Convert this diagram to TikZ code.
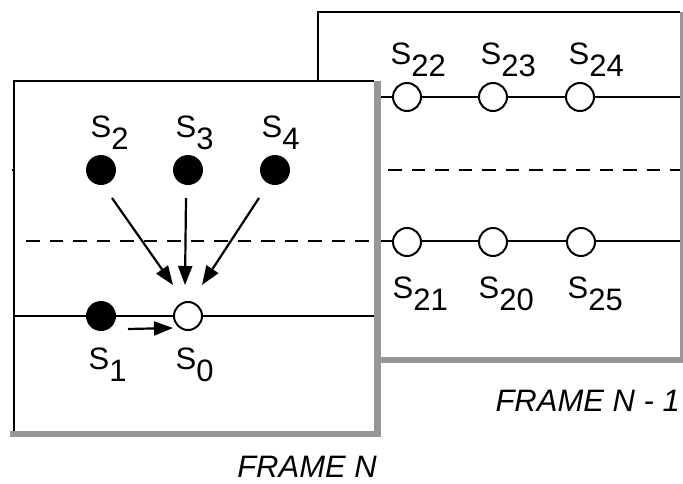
\documentclass[tikz,border=0pt]{standalone}
\usepackage{fontspec}
\setmainfont{Liberation Sans}
\usetikzlibrary{arrows.meta}
\definecolor{shadowgray}{RGB}{150,150,150}
\newcommand\slab[1]{S\lower12pt\hbox{#1}}
\begin{document}
\begin{tikzpicture}[x=1pt,y=-1pt,
  lw/.style={line width=2pt},
  dashline/.style={line width=2pt,dash pattern=on 13.5pt off 10pt},
  shadowline/.style={shadowgray,line width=6.5pt},
  opendot/.style={circle,draw,line width=2pt,fill=white,minimum size=28pt,inner sep=0pt},
  fulldot/.style={circle,fill=black,minimum size=30pt,inner sep=0pt},
  lab/.style={anchor=base west,inner sep=0pt,font=\fontsize{31}{36}\selectfont},
  framelab/.style={anchor=base east,inner sep=0pt,font=\fontsize{31}{36}\selectfont\itshape},
  arr/.style={line width=2.2pt,-{Triangle[length=19pt,width=14pt]}}]
\useasboundingbox (0,0) rectangle (683,483);
\fill[white] (0,0) rectangle (683,483);
% ---------- frame N-1 ----------
\draw[lw] (318,81) -- (318,12) -- (680,12);
\draw[shadowline] (683,12) -- (683,363);
\draw[shadowline] (377,360) -- (686,360);
\draw[lw] (377,97) -- (680,97);
\draw[dashline] (12,170) -- (680,170);
\draw[lw] (377,241) -- (680,241);
\node[opendot] (s22) at (407,97) {};
\node[opendot] (s23) at (493,97) {};
\node[opendot] (s24) at (580,97) {};
\node[opendot] (s21) at (407,242) {};
\node[opendot] (s20) at (493,242) {};
\node[opendot] (s25) at (581,242) {};
\node[lab] (l22) at (390.5,64.5) {\slab{22}};
\node[lab] (l23) at (480.5,64.5) {\slab{23}};
\node[lab] (l24) at (568.5,64.5) {\slab{24}};
\node[lab] (l21) at (392.5,298) {\slab{21}};
\node[lab] (l20) at (478.5,298) {\slab{20}};
\node[lab] (l25) at (567.5,298) {\slab{25}};
\node[framelab] (fn1) at (680,411.5) {FRAME N - 1};
% ---------- frame N ----------
\fill[white] (14,81) rectangle (377,434);
\draw[dashline,dash phase=13.5pt] (16,241) -- (374,241);
\draw[lw] (13,316) -- (374,316);
\draw[lw] (14,431) -- (14,81) -- (374,81);
\draw[shadowline] (377.5,81) -- (377.5,437);
\draw[shadowline] (10,434) -- (381,434);
\node[fulldot] (s2) at (101,170) {};
\node[fulldot] (s3) at (188,170) {};
\node[fulldot] (s4) at (275,170) {};
\node[fulldot] (s1) at (101,316) {};
\node[opendot] (s0) at (188,316) {};
\node[lab] (l2) at (90.5,137.5) {\slab{2}};
\node[lab] (l3) at (175.5,137.5) {\slab{3}};
\node[lab] (l4) at (261.5,137.5) {\slab{4}};
\node[lab] (l1) at (88.5,369.5) {\slab{1}};
\node[lab] (l0) at (175.5,369.5) {\slab{0}};
\node[framelab] (fn) at (377,477) {FRAME N};
% ---------- arrows ----------
\draw[arr] ([shift={(11,28)}]s2.center) -- ([shift={(-15,-31)}]s0.center);
\draw[arr] ([shift={(-2,28)}]s3.center) -- ([shift={(-3,-31)}]s0.center);
\draw[arr] ([shift={(-16,28)}]s4.center) -- ([shift={(14,-31)}]s0.center);
\draw[arr] ([shift={(27,13)}]s1.center) -- ([shift={(-15,12)}]s0.center);
\end{tikzpicture}
\end{document}
